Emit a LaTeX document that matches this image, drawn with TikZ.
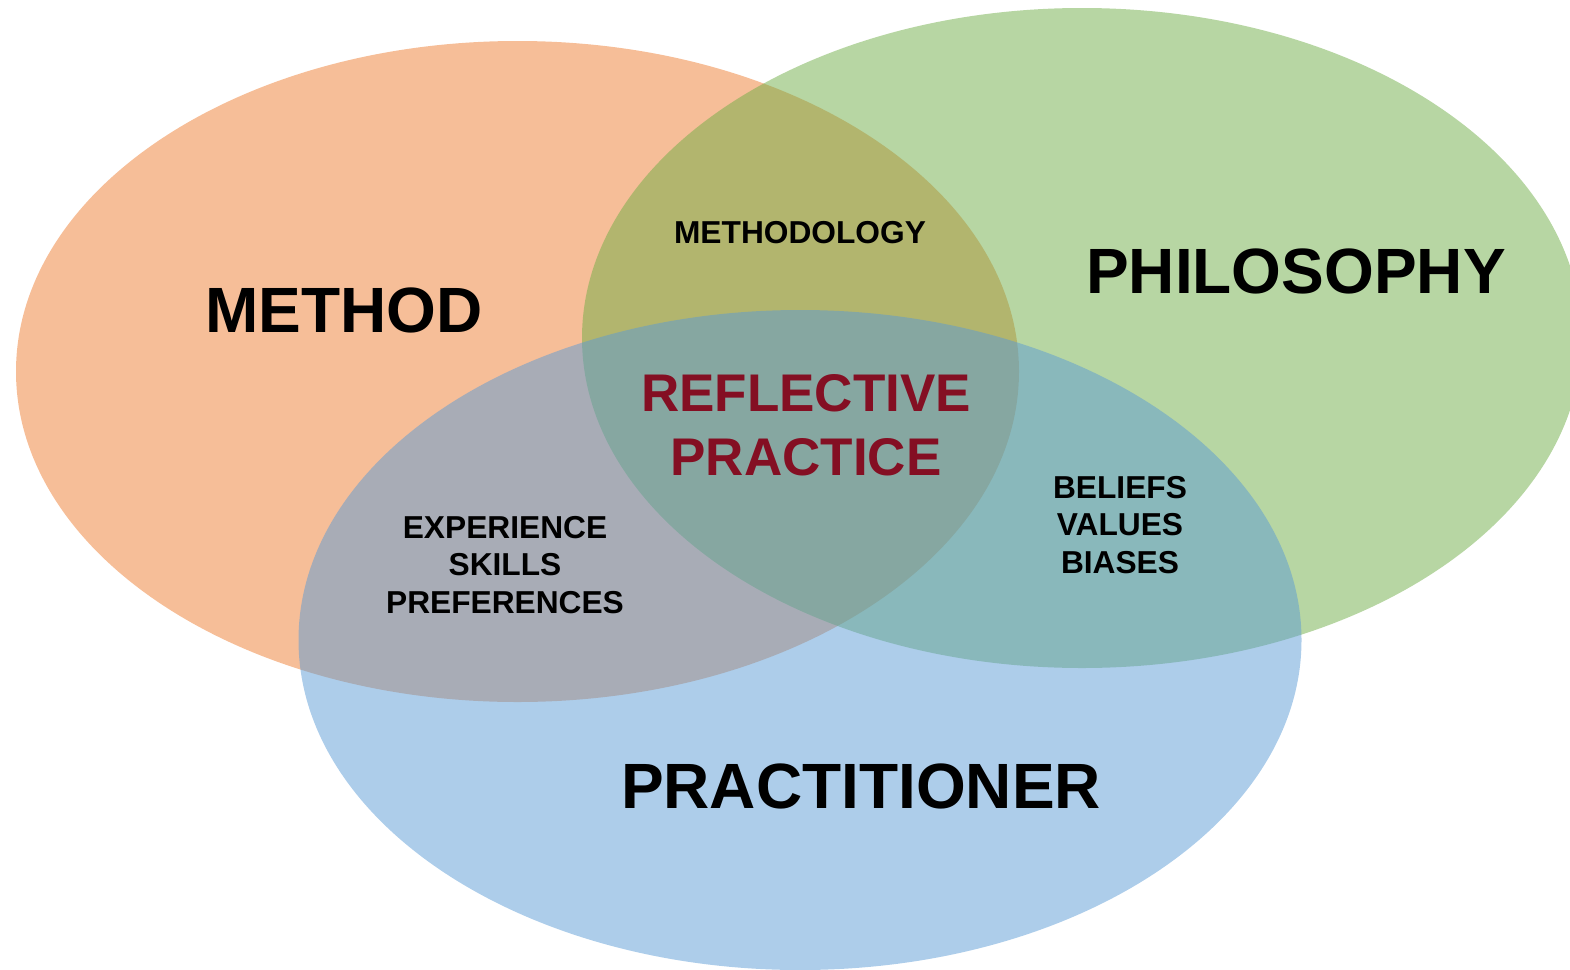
\documentclass[tikz,border=0pt]{standalone}
\usepackage{fontspec}
\setmainfont{Liberation Sans}
\definecolor{cOrange}{RGB}{237,125,49}
\definecolor{cGreen}{RGB}{112,173,71}
\definecolor{cBlue}{RGB}{91,155,213}
\definecolor{cRed}{RGB}{132,15,35}
\begin{document}
\begin{tikzpicture}[x=1pt,y=-1pt,
  blob/.style={fill opacity=0.5, draw=none},
  bigtxt/.style={font=\fontsize{64}{74}\selectfont\bfseries, text=black, inner sep=0pt},
  midtxt/.style={font=\fontsize{53}{63.5}\selectfont\bfseries, text=cRed, align=center, inner sep=0pt},
  smalltxt/.style={font=\fontsize{31.7}{37.5}\selectfont\bfseries, text=black, align=center, inner sep=0pt}]
\useasboundingbox (0,0) rectangle (1570,969);
\clip (0,0) rectangle (1570,969);
\fill[blob, cOrange] (517.5,371.5) ellipse [x radius=501.5, y radius=330.5];
\fill[blob, cGreen] (1082,338) ellipse [x radius=500, y radius=330];
\fill[blob, cBlue] (800,640) ellipse [x radius=501.5, y radius=330];
\node[bigtxt] (method) at (344,310) {METHOD};
\node[bigtxt] (philosophy) at (1296,271) {PHILOSOPHY};
\node[bigtxt] (practitioner) at (861,786) {PRACTITIONER};
\node[midtxt] (reflective) at (806,425) {REFLECTIVE\\PRACTICE};
\node[smalltxt] (methodology) at (800,233) {METHODOLOGY};
\node[smalltxt] (experience) at (505,565) {EXPERIENCE\\SKILLS\\PREFERENCES};
\node[smalltxt] (beliefs) at (1120,525) {BELIEFS\\VALUES\\BIASES};
\end{tikzpicture}
\end{document}
